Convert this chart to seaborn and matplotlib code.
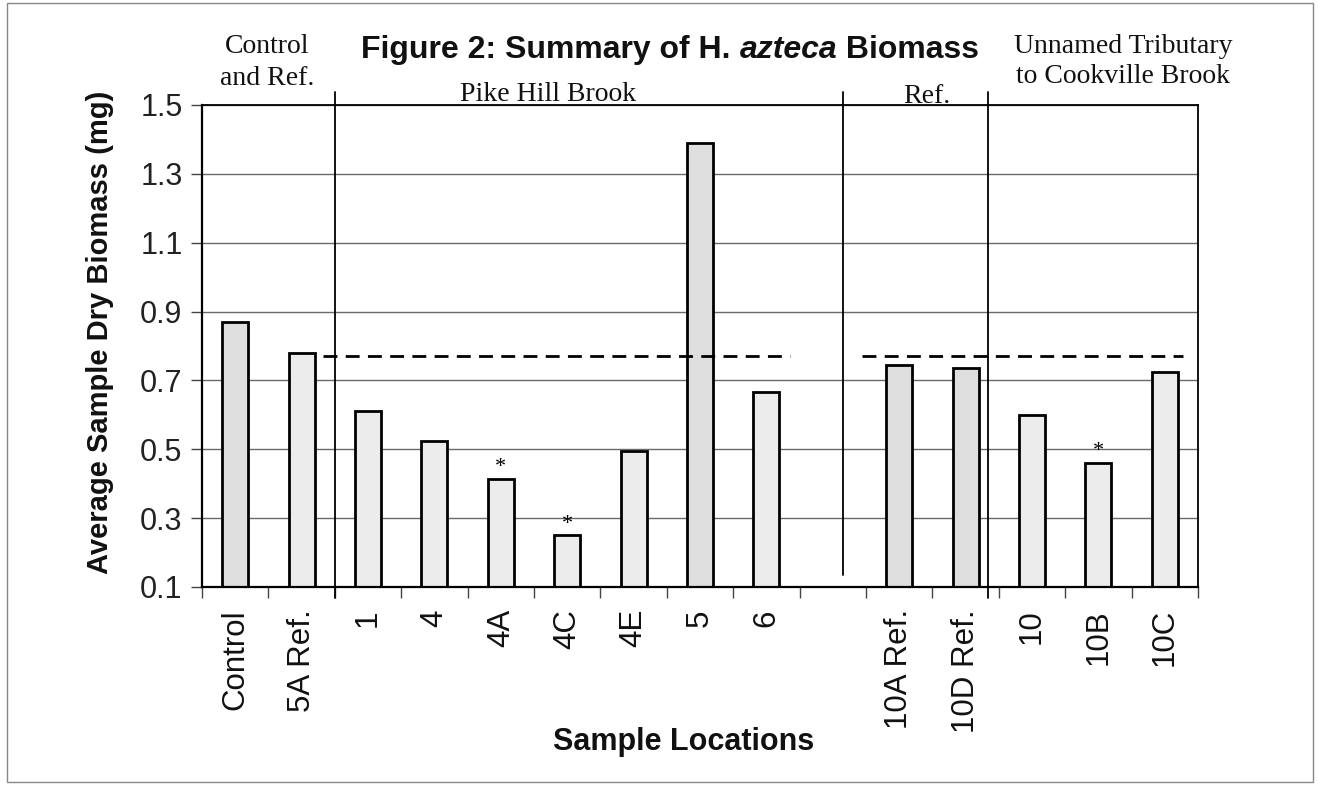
import numpy as np
import pandas as pd
import matplotlib
matplotlib.use("Agg")
import matplotlib.pyplot as plt
import matplotlib.transforms as mtransforms
from matplotlib.patches import Rectangle
import seaborn as sns

# ---------------- data ----------------
locations = ["Control", "5A Ref.", "1", "4", "4A", "4C", "4E", "5", "6",
             "10A Ref.", "10D Ref.", "10", "10B", "10C"]
biomass = [0.87, 0.78, 0.61, 0.525, 0.415, 0.25, 0.495, 1.39, 0.665,
           0.745, 0.735, 0.60, 0.46, 0.725]
significant = ["4A", "4C", "10B"]
darker_fill = ["Control", "5", "10A Ref.", "10D Ref."]
ref_mean = 0.77
slot_order = ["Control", "5A Ref.", "1", "4", "4A", "4C", "4E", "5", "6", " ",
              "10A Ref.", "10D Ref.", "10", "10B", "10C"]
y_ticks = [0.1, 0.3, 0.5, 0.7, 0.9, 1.1, 1.3, 1.5]
y_tick_labels = ["0.1", "0.3", "0.5", "0.7", "0.9", "1.1", "1.3", "1.5"]

df = pd.DataFrame({"location": locations, "biomass": biomass})

# ---------------- style ----------------
sns.set_theme(style="white")
plt.rcParams["font.family"] = ["Liberation Sans", "DejaVu Sans"]
SERIF = ["Liberation Serif", "DejaVu Serif"]

W, H = 1318, 786
fig = plt.figure(figsize=(W / 100, H / 100), dpi=100)
fig.patch.set_facecolor("white")

def fx(px):
    return px / W

def fy(py):
    return 1 - py / H

ax_left, ax_right, ax_top, ax_bottom = 202, 1198, 105, 587
ax = fig.add_axes([fx(ax_left), fy(ax_bottom), fx(ax_right - ax_left),
                   (ax_bottom - ax_top) / H])

sns.barplot(data=df, x="location", y="biomass", order=slot_order,
            width=0.39, color="#ececec", edgecolor="black", linewidth=2.0,
            saturation=1, ax=ax)

for p in ax.patches:
    idx = int(round(p.get_x() + p.get_width() / 2))
    if 0 <= idx < len(slot_order) and slot_order[idx] in darker_fill:
        p.set_facecolor("#dedede")

ax.set_xlim(-0.5, len(slot_order) - 0.5)
ax.set_ylim(0.1, 1.5)
ax.set_yticks(y_ticks)
ax.set_yticklabels(y_tick_labels)
ax.yaxis.grid(True, color="#6a6a6a", linewidth=1.0)
ax.xaxis.grid(False)
ax.set_axisbelow(True)

for name, sp in ax.spines.items():
    sp.set_visible(True)
    sp.set_color("black")
    sp.set_linewidth(1.6 if name in ("left", "bottom") else 1.3)

ax.tick_params(axis="y", which="major", left=True, length=8, width=1.0,
               color="#444444", labelsize=22, pad=6, labelcolor="#222222")
ax.tick_params(axis="x", which="major", bottom=False, length=0,
               labelsize=22.5, pad=16, labelrotation=90, labelcolor="#111111")
ax.set_xticks(np.arange(-0.5, len(slot_order), 1.0), minor=True)
ax.tick_params(axis="x", which="minor", bottom=True, length=8, width=1.0,
               color="#444444")
for lab in ax.get_xticklabels():
    lab.set_verticalalignment("top")

ax.set_xlabel("")
ax.set_ylabel("")

# reference mean dashed lines
ax.hlines(ref_mean, 1.32, 8.35, colors="black", linestyles=(0, (5, 3)),
          linewidth=2.0)
ax.hlines(ref_mean, 9.44, 14.27, colors="black", linestyles=(0, (5, 3)),
          linewidth=2.0)

# asterisks for significant differences
for loc in significant:
    i = slot_order.index(loc)
    v = biomass[locations.index(loc)]
    ax.text(i, v + 0.005, "*", ha="center", va="bottom", fontsize=16,
            family=SERIF, color="black")

# group separators
trans = mtransforms.blended_transform_factory(ax.transData, ax.transAxes)
for xs, y0 in [(1.5, -0.023), (9.15, 0.025), (11.34, -0.023)]:
    ax.plot([xs, xs], [y0, 1.027], color="black", linewidth=1.3,
            transform=trans, clip_on=False)

# group labels (baselines)
def serif_label(x, y, s):
    fig.text(fx(x), fy(y), s, ha="center", va="baseline", fontsize=20,
             family=SERIF, color="#111111")

serif_label(267, 53, "Control")
serif_label(267, 85, "and Ref.")
serif_label(548, 101, "Pike Hill Brook")
serif_label(927, 103, "Ref.")
serif_label(1123, 53, "Unnamed Tributary")
serif_label(1123, 83, "to Cookville Brook")

# title with italic species name
fig.canvas.draw()
renderer = fig.canvas.get_renderer()
parts = [("Figure 2: Summary of H. ", "normal"), ("azteca", "italic"),
         (" Biomass", "normal")]
texts = []
total = 0
for s, style in parts:
    t = fig.text(0, fy(58), s, ha="left", va="baseline", fontsize=23,
                 fontweight="bold", fontstyle=style, color="#111111")
    texts.append(t)
    total += t.get_window_extent(renderer).width
x0 = 670 - total / 2
for t in texts:
    t.set_x(fx(x0))
    x0 += t.get_window_extent(renderer).width

# axis labels
fig.text(fx(100), fy(332), "Average Sample Dry Biomass (mg)", rotation=90,
         ha="center", va="center", fontsize=21, fontweight="bold",
         color="#111111")
fig.text(fx(684), fy(742), "Sample Locations", ha="center", va="center",
         fontsize=22, fontweight="bold", color="#111111")

# page frame
fig.patches.append(Rectangle((fx(7), fy(782)), fx(1306), (782 - 3) / H,
                             transform=fig.transFigure, fill=False,
                             edgecolor="#888888", linewidth=1.0))

fig.savefig("out.png", dpi=100)
